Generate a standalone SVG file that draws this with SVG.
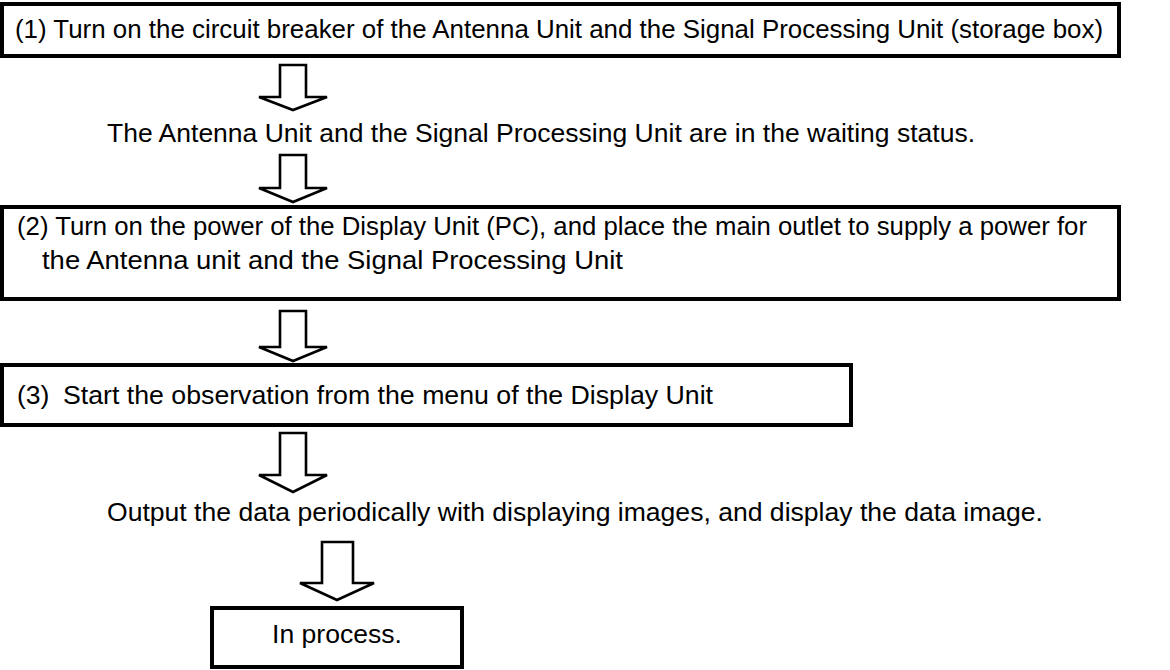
<svg xmlns="http://www.w3.org/2000/svg" width="1170" height="670" viewBox="0 0 1170 670">
  <style>
    .box { fill: #ffffff; stroke: #000000; stroke-width: 4; }
    .label { font-family: "Liberation Sans", Arial, sans-serif; font-size: 26.5px; fill: #000000; }
    .flow { fill: #ffffff; stroke: #000000; stroke-width: 2.6; stroke-linejoin: miter; }
  </style>
  <rect width="1170" height="670" fill="#ffffff"/>

  <!-- Step boxes and status lines -->
  <g id="step1">
    <rect class="box" x="2" y="4" width="1117" height="52"/>
    <text class="label" x="15" y="38" textLength="1088" lengthAdjust="spacingAndGlyphs">(1) Turn on the circuit breaker of the Antenna Unit and the Signal Processing Unit (storage box)</text>
  </g>

  <g id="status-waiting">
    <text class="label" x="107" y="142" textLength="868" lengthAdjust="spacingAndGlyphs">The Antenna Unit and the Signal Processing Unit are in the waiting status.</text>
  </g>

  <g id="step2">
    <rect class="box" x="2" y="207" width="1117" height="92"/>
    <text class="label" x="17" y="235" textLength="1070" lengthAdjust="spacingAndGlyphs">(2) Turn on the power of the Display Unit (PC), and place the main outlet to supply a power for</text>
    <text class="label" x="42" y="269" textLength="581" lengthAdjust="spacingAndGlyphs">the Antenna unit and the Signal Processing Unit</text>
  </g>

  <g id="step3">
    <rect class="box" x="2" y="365" width="849" height="60"/>
    <text class="label" x="17" y="404">(3)</text>
    <text class="label" x="63" y="404" textLength="650" lengthAdjust="spacingAndGlyphs">Start the observation from the menu of the Display Unit</text>
  </g>

  <g id="status-output">
    <text class="label" x="107" y="521" textLength="936" lengthAdjust="spacingAndGlyphs">Output the data periodically with displaying images, and display the data image.</text>
  </g>

  <g id="in-process">
    <rect class="box" x="212" y="608" width="250" height="59"/>
    <text class="label" x="272" y="643" textLength="130" lengthAdjust="spacingAndGlyphs">In process.</text>
  </g>

  <!-- Block arrows between the stages -->
  <g id="connectors">
    <path class="flow" d="M280,65 H306 V97 H327 L293,110 L259,97 H280 Z"/>
    <path class="flow" d="M280,155 H306 V188 H327 L293,202 L259,188 H280 Z"/>
    <path class="flow" d="M280,311 H306 V347 H327 L293,361 L259,347 H280 Z"/>
    <path class="flow" d="M280,433 H306 V475 H327 L293,492 L259,475 H280 Z"/>
    <path class="flow" d="M322,542 H353 V583 H374 L337,600 L300,583 H322 Z"/>
  </g>
</svg>
